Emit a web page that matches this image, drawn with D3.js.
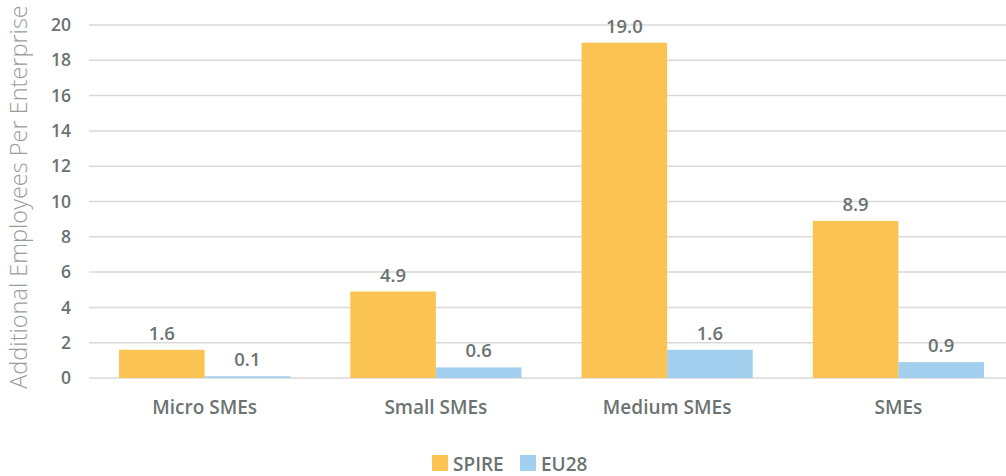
<!DOCTYPE html>
<html><head><meta charset="utf-8">
<script src="https://cdn.jsdelivr.net/npm/d3@7"></script>
<style>body{margin:0;background:#fff}svg{display:block}text{font-family:"Open Sans","Noto Sans",sans-serif}</style>
</head><body>
<svg id="c" width="1006" height="476"></svg>
<script>
const categories = ["Micro SMEs", "Small SMEs", "Medium SMEs", "SMEs"];
const seriesNames = ["SPIRE", "EU28"];
const spire = [1.6, 4.9, 19.0, 8.9];
const eu28 = [0.1, 0.6, 1.6, 0.9];
const yTicks = [0, 2, 4, 6, 8, 10, 12, 14, 16, 18, 20];
const colors = ["#FBC452", "#A3CFEE"];
const yTitle = "Additional Employees Per Enterprise";

const svg = d3.select("#c");
const textCol = "#6b7371";
const x0 = d3.scaleBand().domain(categories).range([89, 1014]).paddingInner(0.26).paddingOuter(0.13);
const x1 = d3.scaleBand().domain(seriesNames).range([0, x0.bandwidth()]);
const y = d3.scaleLinear().domain([0, 20]).range([378, 25]);

// gridlines
svg.append("g").selectAll("line").data(yTicks).join("line")
  .attr("x1", 89).attr("x2", 1006).attr("y1", d => y(d)).attr("y2", d => y(d))
  .attr("stroke", "#d9d9d9").attr("stroke-width", 1.5);

// y axis labels
const ya = svg.append("g").attr("transform", "translate(71,0)")
  .call(d3.axisLeft(y).tickValues(yTicks).tickSize(0).tickPadding(0));
ya.select(".domain").remove();
ya.selectAll("text").attr("font-size", 17.5).attr("font-weight", 600).attr("fill", textCol)
  .attr("font-family", '"Open Sans","Noto Sans",sans-serif');

// y title
svg.append("text").attr("transform", "translate(27,197) rotate(-90)")
  .attr("text-anchor", "middle").attr("font-size", 23.5).attr("font-weight", 300)
  .attr("fill", "#9a9d9c").text(yTitle);

const rows = categories.map((c, i) => ({c, vals: [spire[i], eu28[i]]}));
const g = svg.append("g").selectAll("g").data(rows).join("g")
  .attr("transform", d => `translate(${x0(d.c)},0)`);
g.selectAll("rect").data(d => d.vals.map((v, j) => ({v, s: seriesNames[j], j}))).join("rect")
  .attr("x", d => x1(d.s)).attr("width", x1.bandwidth())
  .attr("y", d => y(d.v)).attr("height", d => y(0) - y(d.v))
  .attr("fill", d => colors[d.j]);
g.selectAll("text").data(d => d.vals.map((v, j) => ({v, s: seriesNames[j]}))).join("text")
  .attr("x", d => x1(d.s) + x1.bandwidth() / 2).attr("y", d => y(d.v) - 10)
  .attr("text-anchor", "middle").attr("font-size", 18.5).attr("font-weight", 600)
  .attr("fill", textCol).text(d => d3.format(".1f")(d.v));

// x axis labels
const xa = svg.append("g").attr("transform", "translate(0,378)")
  .call(d3.axisBottom(x0).tickSize(0).tickPadding(23));
xa.select(".domain").remove();
xa.selectAll("text").attr("font-size", 19).attr("font-weight", 600).attr("fill", textCol)
  .attr("font-family", '"Open Sans","Noto Sans",sans-serif');

// legend
const legX = [432, 520];
const lg = svg.append("g").selectAll("g").data(seriesNames).join("g")
  .attr("transform", (d, i) => `translate(${legX[i]},455)`);
lg.append("rect").attr("width", 16).attr("height", 16).attr("fill", (d, i) => colors[i]);
lg.append("text").attr("x", 21).attr("y", 16).attr("font-size", 19).attr("font-weight", 600)
  .attr("fill", textCol).text(d => d);
</script>
</body></html>
